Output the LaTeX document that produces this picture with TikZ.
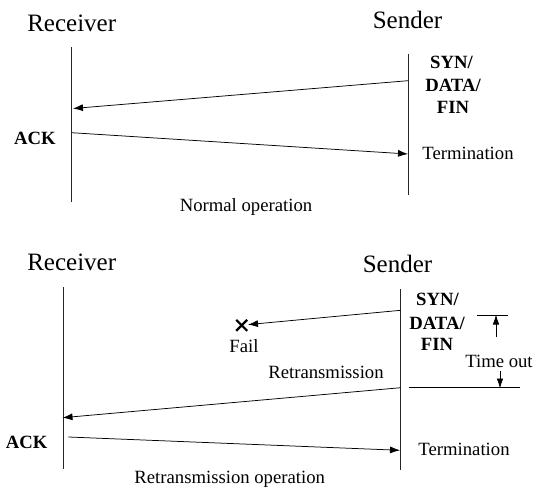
\documentclass[tikz,border=0pt]{standalone}
\usepackage{fontspec}
\setmainfont{Liberation Serif}
\usetikzlibrary{arrows.meta,calc}
\begin{document}
\begin{tikzpicture}[x=1pt,y=-1pt,
  big/.style={font=\fontsize{25}{30}\selectfont, inner sep=0pt, anchor=base},
  lbl/.style={font=\fontsize{18.7}{22}\selectfont, inner sep=0pt, anchor=base},
  blbl/.style={lbl, font=\fontsize{18.7}{22}\selectfont\bfseries},
  life/.style={line width=0.8pt, black!85},
  msg/.style={line width=0.75pt, -{Latex[length=10pt,width=7pt]}},
  thin/.style={line width=0.75pt},
  tip/.style={line width=0.75pt, -{Latex[length=10pt,width=6.5pt]}}
]
\useasboundingbox (0,0) rectangle (543,487);

% ---------------- Normal operation ----------------
\node[big] (recv1) at (71.7,31.3) {Receiver};
\node[big] (send1) at (407.5,29) {Sender};
\coordinate (r1top) at (71,47);
\coordinate (r1bot) at (71,202);
\coordinate (s1top) at (408,54);
\coordinate (s1bot) at (408,195);
\draw[life] (r1top) -- (r1bot);
\draw[life] (s1top) -- (s1bot);

\node[blbl] (syn1) at (451.5,68) {SYN/};
\node[blbl] (data1) at (453,91) {DATA/};
\node[blbl] (fin1) at (453,113) {FIN};

\coordinate (m1s) at (408,80.7);
\coordinate (m1e) at (73,108.5);
\draw[msg] (m1s) -- (m1e);

\node[blbl] (ack1) at (35,144.5) {ACK};
\coordinate (m2s) at (71.7,132.7);
\coordinate (m2e) at (408,154);
\draw[msg] (m2s) -- (m2e);
\node[lbl] (term1) at (468,159.5) {Termination};

\node[lbl] (cap1) at (246,211) {Normal operation};

% ---------------- Retransmission operation ----------------
\node[big] (recv2) at (71.7,270.3) {Receiver};
\node[big] (send2) at (397.5,272) {Sender};
\coordinate (r2top) at (63.3,287);
\coordinate (r2bot) at (63.3,469);
\coordinate (s2top) at (400.7,289);
\coordinate (s2bot) at (400.7,470);
\draw[life] (r2top) -- (r2bot);
\draw[life] (s2top) -- (s2bot);

\node[blbl] (syn2) at (437.5,305) {SYN/};
\node[blbl] (data2) at (437,329) {DATA/};
\node[blbl] (fin2) at (437,350) {FIN};

% failed transmission
\coordinate (fx) at (241.7,325.3);
\coordinate (f1s) at (400.7,310.3);
\coordinate (f1e) at (248,324.6);
\draw[msg] (f1s) -- (f1e);
\draw[line width=2.2pt] ($(fx)+(-5.5,-5.5)$) -- ($(fx)+(5.5,5.5)$)
                        ($(fx)+(-5.5,5.5)$) -- ($(fx)+(5.5,-5.5)$);
\node[lbl] (fail) at (244,352) {Fail};

% time out
\coordinate (tTopL) at (476.7,315.3);
\coordinate (tTopR) at (508,315.3);
\coordinate (tUpS) at (496,337);
\coordinate (tUpE) at (496,314.5);
\coordinate (tDnS) at (500,371);
\coordinate (tDnE) at (500,388.5);
\coordinate (tBotL) at (409,387.7);
\coordinate (tBotR) at (520,387.7);
\draw[thin] (tTopL) -- (tTopR);
\draw[tip] (tUpS) -- (tUpE);
\node[lbl] (timeout) at (499,367) {Time out};
\draw[tip] (tDnS) -- (tDnE);
\draw[thin] (tBotL) -- (tBotR);

% retransmission
\node[lbl] (retr) at (326,378) {Retransmission};
\coordinate (m3s) at (400.7,387.7);
\coordinate (m3e) at (62.5,417.7);
\draw[msg] (m3s) -- (m3e);

\node[blbl] (ack2) at (26.7,448) {ACK};
\coordinate (m4s) at (68.3,437);
\coordinate (m4e) at (400,450.3);
\draw[msg] (m4s) -- (m4e);
\node[lbl] (term2) at (464,455) {Termination};

\node[lbl] (cap2) at (229.7,483) {Retransmission operation};
\end{tikzpicture}
\end{document}
